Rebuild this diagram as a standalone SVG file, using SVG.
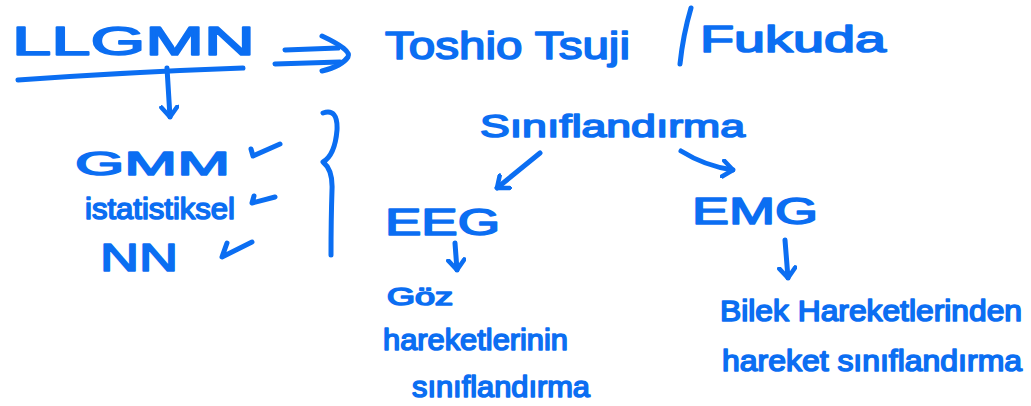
<svg xmlns="http://www.w3.org/2000/svg" width="1031" height="406" viewBox="0 0 1031 406">
<style>
.t{font-family:"Liberation Sans",Arial,sans-serif;fill:#0b6ef2;stroke:#0b6ef2;stroke-width:1.6;stroke-linejoin:round}
.c{fill:none;stroke:#0b6ef2;stroke-width:5;stroke-linecap:round;stroke-linejoin:round}
</style>
<defs>
<marker id="v" viewBox="-12 -10 14 20" markerWidth="14" markerHeight="20" refX="0" refY="0" orient="auto" markerUnits="userSpaceOnUse">
<path d="M-10,-8 L0,0 L-10,8" fill="none" stroke="#0b6ef2" stroke-width="4.5" stroke-linecap="round" stroke-linejoin="round"/>
</marker>
</defs>
<rect width="1031" height="406" fill="#ffffff"/>
<g id="llgmn"><text class="t" x="12" y="55" font-size="40" textLength="243" lengthAdjust="spacingAndGlyphs">LLGMN</text></g>
<g id="authors">
<text class="t" x="385" y="59" font-size="38" textLength="245" lengthAdjust="spacingAndGlyphs">Toshio Tsuji</text>
<text class="t" x="700" y="52" font-size="36" textLength="186" lengthAdjust="spacingAndGlyphs">Fukuda</text>
</g>
<g id="gmm"><text class="t" x="75" y="175" font-size="34" textLength="155" lengthAdjust="spacingAndGlyphs">GMM</text></g>
<g id="istatistiksel"><text class="t" x="85" y="219" font-size="30" textLength="150" lengthAdjust="spacingAndGlyphs">istatistiksel</text></g>
<g id="nn"><text class="t" x="100" y="271" font-size="38" textLength="78" lengthAdjust="spacingAndGlyphs">NN</text></g>
<g id="siniflandirma"><text class="t" x="480" y="137" font-size="32" textLength="265" lengthAdjust="spacingAndGlyphs">Sınıflandırma</text></g>
<g id="eeg"><text class="t" x="385" y="235" font-size="36" textLength="115" lengthAdjust="spacingAndGlyphs">EEG</text></g>
<g id="emg"><text class="t" x="692" y="224" font-size="36" textLength="126" lengthAdjust="spacingAndGlyphs">EMG</text></g>
<g id="eeg-desc">
<text class="t" x="387" y="305" font-size="24" textLength="66" lengthAdjust="spacingAndGlyphs">Göz</text>
<text class="t" x="383" y="350" font-size="30" textLength="185" lengthAdjust="spacingAndGlyphs">hareketlerinin</text>
<text class="t" x="412" y="397" font-size="30" textLength="178" lengthAdjust="spacingAndGlyphs">sınıflandırma</text>
</g>
<g id="emg-desc">
<text class="t" x="720" y="321" font-size="30" textLength="302" lengthAdjust="spacingAndGlyphs">Bilek Hareketlerinden</text>
<text class="t" x="722" y="371" font-size="30" textLength="300" lengthAdjust="spacingAndGlyphs">hareket sınıflandırma</text>
</g>
<g id="connectors">
<path class="c" d="M18,80 Q130,72 243,68"/>
<path class="c" d="M167,68 L170,117" marker-end="url(#v)"/>
<path class="c" d="M285,50 L338,48"/>
<path class="c" d="M275,64 L340,62"/>
<path class="c" d="M322,36 Q352,50 348,57 Q342,66 322,71"/>
<path class="c" d="M691,8 Q683,35 680,64"/>
<path class="c" d="M540,153 L497,188" marker-end="url(#v)"/>
<path class="c" d="M681,151 Q705,166 733,170" marker-end="url(#v)"/>
<path class="c" d="M455,243 L457,270" marker-end="url(#v)"/>
<path class="c" d="M785,240 L788,278" marker-end="url(#v)"/>
<path class="c" d="M251,149 L253,156 L280,144"/>
<path class="c" d="M254,196 L252,203 L275,197"/>
<path class="c" d="M227,243 L222,257 L252,242"/>
<path class="c" d="M323,113 Q338,108 337,130 Q335,155 323,162 Q333,170 332,190 Q331,220 331,255"/>
</g>
</svg>
